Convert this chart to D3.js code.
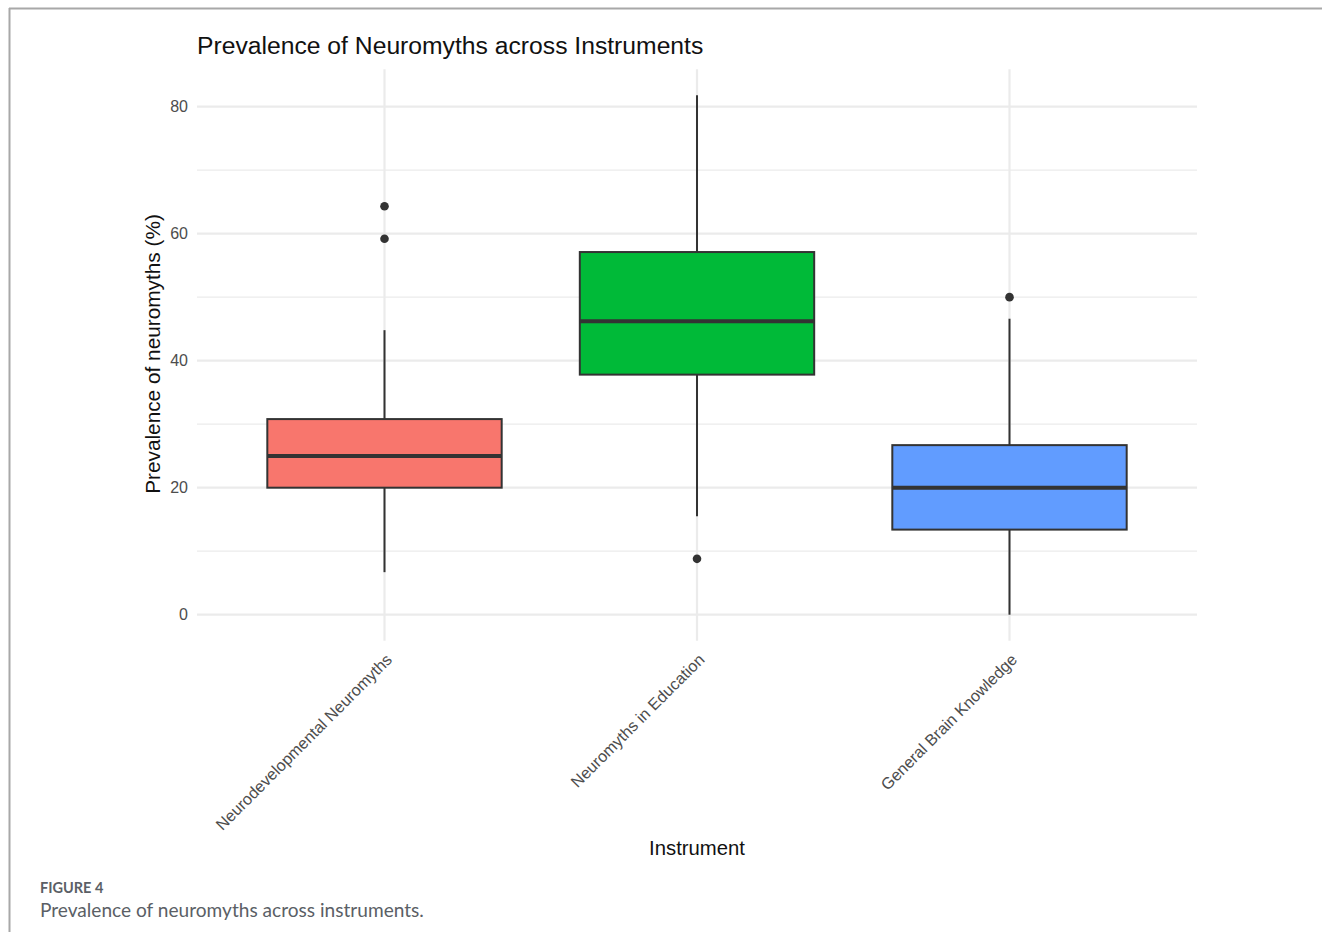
<!DOCTYPE html>
<html>
<head>
<meta charset="utf-8">
<script src="https://cdn.jsdelivr.net/npm/d3@7"></script>
<style>
  html, body { margin: 0; padding: 0; background: #fff; }
  svg { display: block; }
</style>
</head>
<body>
<svg id="chart" width="1322" height="932"></svg>
<script>
// Instruments and their box-plot summaries (prevalence, %)
const categories = ["Neurodevelopmental Neuromyths", "Neuromyths in Education", "General Brain Knowledge"];
const lowerWhisker = [6.7, 15.5, 0];
const q1 = [20.0, 37.8, 13.4];
const median = [25.0, 46.2, 20.0];
const q3 = [30.8, 57.1, 26.7];
const upperWhisker = [44.8, 81.8, 46.6];
const outliers = [[64.3, 59.2], [8.8], [50.0]];
const fills = ["#F8766D", "#00BA38", "#619CFF"];
const yTicks = [0, 20, 40, 60, 80];
const yMinorTicks = [10, 30, 50, 70];

const svg = d3.select("#chart");
const plotFont = "Liberation Sans, Arial, sans-serif";

// Figure frame
svg.append("line").attr("x1", 9).attr("x2", 1322).attr("y1", 8.5).attr("y2", 8.5)
  .attr("stroke", "#a8a8a8").attr("stroke-width", 2);
svg.append("line").attr("x1", 9.5).attr("x2", 9.5).attr("y1", 8).attr("y2", 932)
  .attr("stroke", "#a8a8a8").attr("stroke-width", 2);

const panel = { left: 197, right: 1197, top: 69.3, bottom: 640.7 };

const yLo = -4.09, yHi = 85.87;
const y = d3.scaleLinear().domain([yLo, yHi]).range([panel.bottom, panel.top]);
const x = d3.scalePoint().domain(categories).range([panel.left, panel.right]).padding(0.6);
const boxW = x.step() * 0.75;

// Grid: minor then major
const grid = svg.append("g");
grid.selectAll(".minor").data(yMinorTicks).join("line")
  .attr("x1", panel.left).attr("x2", panel.right)
  .attr("y1", d => y(d)).attr("y2", d => y(d))
  .attr("stroke", "#EBEBEB").attr("stroke-width", 1.2);
grid.selectAll(".major").data(yTicks).join("line")
  .attr("x1", panel.left).attr("x2", panel.right)
  .attr("y1", d => y(d)).attr("y2", d => y(d))
  .attr("stroke", "#EBEBEB").attr("stroke-width", 2.2);
grid.selectAll(".vmajor").data(categories).join("line")
  .attr("x1", d => x(d)).attr("x2", d => x(d))
  .attr("y1", panel.top).attr("y2", panel.bottom)
  .attr("stroke", "#EBEBEB").attr("stroke-width", 2.2);

// Y axis labels
const yAxis = svg.append("g").attr("transform", `translate(${panel.left},0)`)
  .call(d3.axisLeft(y).tickValues(yTicks).tickSize(0).tickPadding(9));
yAxis.select(".domain").remove();
yAxis.selectAll("text")
  .attr("font-family", plotFont)
  .attr("font-size", 16).attr("fill", "#4D4D4D");

// X axis labels, rotated 45 degrees
const xAxis = svg.append("g").attr("transform", `translate(0,${panel.bottom})`)
  .call(d3.axisBottom(x).tickSize(0).tickPadding(0));
xAxis.select(".domain").remove();
xAxis.selectAll("text")
  .attr("font-family", plotFont)
  .attr("font-size", 16.2).attr("fill", "#4D4D4D")
  .attr("text-anchor", "end")
  .attr("dy", null).attr("y", 0)
  .attr("transform", "translate(8,20) rotate(-45)");

// Boxes
const data = categories.map((c, i) => ({
  c, lo: lowerWhisker[i], q1: q1[i], med: median[i], q3: q3[i], hi: upperWhisker[i],
  out: outliers[i], fill: fills[i]
}));
const boxes = svg.append("g").selectAll("g").data(data).join("g");
boxes.append("line")
  .attr("x1", d => x(d.c)).attr("x2", d => x(d.c))
  .attr("y1", d => y(d.q3)).attr("y2", d => y(d.hi))
  .attr("stroke", "#333333").attr("stroke-width", 2);
boxes.append("line")
  .attr("x1", d => x(d.c)).attr("x2", d => x(d.c))
  .attr("y1", d => y(d.q1)).attr("y2", d => y(d.lo))
  .attr("stroke", "#333333").attr("stroke-width", 2);
boxes.append("rect")
  .attr("x", d => x(d.c) - boxW / 2).attr("width", boxW)
  .attr("y", d => y(d.q3)).attr("height", d => y(d.q1) - y(d.q3))
  .attr("fill", d => d.fill).attr("stroke", "#333333").attr("stroke-width", 2);
boxes.append("line")
  .attr("x1", d => x(d.c) - boxW / 2).attr("x2", d => x(d.c) + boxW / 2)
  .attr("y1", d => y(d.med)).attr("y2", d => y(d.med))
  .attr("stroke", "#333333").attr("stroke-width", 4);
boxes.selectAll("circle").data(d => d.out.map(v => ({ c: d.c, v }))).join("circle")
  .attr("cx", d => x(d.c)).attr("cy", d => y(d.v)).attr("r", 4.3)
  .attr("fill", "#333333");

// Titles
svg.append("text").attr("x", 197).attr("y", 54)
  .attr("font-family", plotFont)
  .attr("font-size", 24.7).attr("fill", "#111")
  .text("Prevalence of Neuromyths across Instruments");
svg.append("text")
  .attr("transform", `translate(160,${(panel.top + panel.bottom) / 2 - 1}) rotate(-90)`)
  .attr("text-anchor", "middle")
  .attr("font-family", plotFont)
  .attr("font-size", 20.8).attr("fill", "#111")
  .text("Prevalence of neuromyths (%)");
svg.append("text").attr("x", (panel.left + panel.right) / 2).attr("y", 855)
  .attr("text-anchor", "middle")
  .attr("font-family", plotFont)
  .attr("font-size", 20.3).attr("fill", "#111")
  .text("Instrument");

// Caption
svg.append("text").attr("x", 40).attr("y", 893)
  .attr("font-family", "Lato, Open Sans, sans-serif").attr("font-weight", 700)
  .attr("font-size", 14.5).attr("fill", "#5b5f66")
  .text("FIGURE 4");
svg.append("text").attr("x", 40).attr("y", 917)
  .attr("font-family", "Lato, Open Sans, sans-serif")
  .attr("font-size", 19.1).attr("fill", "#5b5f66")
  .text("Prevalence of neuromyths across instruments.");
</script>
</body>
</html>
